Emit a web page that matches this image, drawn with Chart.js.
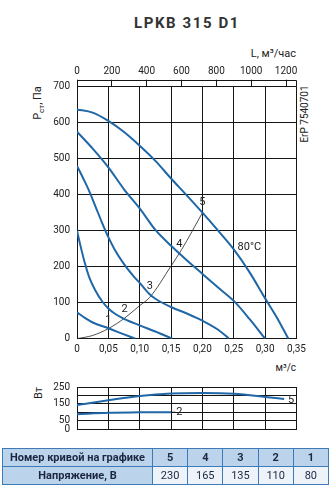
<!DOCTYPE html>
<html>
<head>
<meta charset="utf-8">
<script src="https://cdn.jsdelivr.net/npm/chart.js@4"></script>
<style>
  body { margin: 0; width: 333px; height: 488px; position: relative; background: #fff; font-family: Roboto, sans-serif; color: #222; overflow: hidden; }
  canvas { position: absolute; left: 0; }
  .t { position: absolute; white-space: nowrap; line-height: 1; }
  .rot { transform: translate(-50%, -50%) rotate(-90deg); }
  table { position: absolute; left: 2px; top: 448px; width: 327px; border-collapse: collapse; font-size: 11px; table-layout: fixed; }
  td { border: 1px solid #3d7ab8; height: 17px; padding: 0; text-align: center; color: #1b2640; }
  tr.head td { background: #bcd3ec; font-weight: bold; }
  tr.val td { background: #eef3fa; }
  tr.val td.first { background: #bcd3ec; font-weight: bold; }
</style>
</head>
<body>
<div class="t" style="left:100px;width:174px;top:16px;text-align:center;font-weight:bold;font-size:15px;letter-spacing:1.6px;color:#333">LPKB 315 D1</div>
<div class="t" style="right:37px;top:48px;font-size:11px">L, м³/час</div>
<div class="t rot" style="left:39px;top:103px;font-size:11px">P<sub style="font-size:8px">ст</sub>, Па</div>
<div class="t rot" style="left:305px;top:114px;font-size:10px">ErP 7540701</div>
<div class="t" style="right:37px;top:363px;font-size:10px">м³/с</div>
<div class="t rot" style="left:38px;top:393px;font-size:11px">Вт</div>

<canvas id="main" width="333" height="372" style="top:0"></canvas>
<canvas id="power" width="333" height="72" style="top:370px"></canvas>

<table>
  <colgroup><col style="width:150px"><col><col><col><col><col></colgroup>
  <tr class="head"><td>Номер кривой на графике</td><td>5</td><td>4</td><td>3</td><td>2</td><td>1</td></tr>
  <tr class="val"><td class="first">Напряжение, В</td><td>230</td><td>165</td><td>135</td><td>110</td><td>80</td></tr>
</table>

<script>
// расход, м3/с ; давление, Па
const curve5 = [[0,637],[0.025,628],[0.05,605],[0.075,574],[0.10,536],[0.125,494],[0.15,445],[0.175,398],[0.20,350],[0.225,300],[0.25,248],[0.275,185],[0.30,112],[0.32,55],[0.337,0]];
const curve4 = [[0,575],[0.025,528],[0.05,476],[0.075,415],[0.10,362],[0.125,302],[0.15,258],[0.175,218],[0.20,180],[0.225,142],[0.25,105],[0.275,55],[0.30,0]];
const curve3 = [[0,480],[0.01,445],[0.02,408],[0.03,365],[0.04,322],[0.05,282],[0.06,248],[0.075,207],[0.09,174],[0.10,155],[0.115,125],[0.125,111],[0.15,88],[0.175,70],[0.20,50],[0.225,25],[0.2425,0]];
const curve2 = [[0,300],[0.005,262],[0.0125,210],[0.02,168],[0.03,132],[0.04,104],[0.05,84],[0.06,70],[0.075,55],[0.10,37],[0.125,20],[0.152,0]];
const curve1 = [[0,73],[0.0125,58],[0.025,45],[0.05,29],[0.075,12],[0.093,0]];
const system = [[0,0],[0.025,9],[0.05,28],[0.075,56],[0.10,92],[0.116,115],[0.15,202],[0.167,248],[0.20,350]];

// мощность, Вт
const power5 = [[0,143],[0.05,171],[0.10,197],[0.15,212],[0.20,215],[0.25,210],[0.30,191],[0.33,178]];
const power2 = [[0,88],[0.05,97],[0.10,99],[0.15,100]];

const mainLabels = [["1",0.05,50,"center"],["2",0.076,82,"center"],["3",0.116,147,"center"],["4",0.163,263,"center"],["5",0.20,378,"center"],["80°C",0.256,255,"left"]];
const powerLabels = [["5",0.336,171,"left"],["2",0.158,100,"left"]];

const blue = "#1f67a6";
const gridCol = "#151515";

function pts(a) { return a.map(p => ({ x: p[0], y: p[1] })); }
function curve(a) {
  return { data: pts(a), borderColor: blue, borderWidth: 2, pointRadius: 0, tension: 0.4, cubicInterpolationMode: "monotone", fill: false };
}

const labelPlugin = {
  id: "curveLabels",
  afterDatasetsDraw(chart, args, opts) {
    const ctx = chart.ctx, x = chart.scales.x, y = chart.scales.y;
    ctx.save();
    ctx.font = "11px Roboto";
    ctx.fillStyle = "#222";
    ctx.textBaseline = "middle";
    opts.items.forEach(l => {
      ctx.textAlign = l[3];
      ctx.fillText(l[0], x.getPixelForValue(l[1]), y.getPixelForValue(l[2]));
    });
    if (opts.dash) {
      ctx.strokeStyle = "#222";
      ctx.lineWidth = 1;
      ctx.beginPath();
      ctx.moveTo(x.getPixelForValue(0.15), y.getPixelForValue(100));
      ctx.lineTo(x.getPixelForValue(0.157), y.getPixelForValue(100));
      ctx.stroke();
    }
    ctx.restore();
  }
};

// линия верхней оси (м3/час) с засечкой на конце
const topLine = {
  id: "topLine",
  afterDraw(chart) {
    const s = chart.scales.xTop;
    if (!s) return;
    const ctx = chart.ctx;
    const yy = Math.round(s.bottom - 7) + 0.5;
    const xr = Math.round(s.right) - 0.5;
    ctx.save();
    ctx.strokeStyle = gridCol;
    ctx.lineWidth = 1;
    ctx.beginPath();
    ctx.moveTo(s.left, yy);
    ctx.lineTo(s.right, yy);
    ctx.moveTo(xr, yy);
    ctx.lineTo(xr, s.bottom);
    ctx.stroke();
    ctx.restore();
  }
};

const tickFont = { family: "Roboto", size: 10 };

const sysSet = { data: pts(system), borderColor: "#222", borderWidth: 0.8, pointRadius: 0, tension: 0.4, cubicInterpolationMode: "monotone", fill: false };

new Chart(document.getElementById("main"), {
  type: "line",
  data: { datasets: [curve(curve5), curve(curve4), curve(curve3), curve(curve2), curve(curve1), sysSet] },
  options: {
    responsive: false,
    animation: false,
    devicePixelRatio: 1,
    layout: { padding: { left: 37, right: 36.5, top: 56.7, bottom: 8.3 } },
    plugins: {
      legend: { display: false },
      tooltip: { enabled: false },
      curveLabels: { items: mainLabels }
    },
    scales: {
      x: {
        type: "linear", position: "bottom", min: 0, max: 0.35,
        ticks: { stepSize: 0.05, autoSkip: false, maxRotation: 0, padding: 5, color: "#222", font: tickFont,
          callback: v => v === 0 ? "0" : v.toFixed(2).replace(".", ",") },
        grid: { color: gridCol, drawTicks: false },
        border: { color: gridCol },
        afterFit: s => { s.height = 25; }
      },
      xTop: {
        type: "linear", position: "top", min: 0, max: 1260,
        ticks: { stepSize: 200, includeBounds: false, autoSkip: false, maxRotation: 0, padding: 2, color: "#222", font: tickFont,
          callback: v => String(v) },
        grid: { color: gridCol, drawOnChartArea: false, tickLength: 7 },
        border: { display: false },
        afterFit: s => { s.height = 30; }
      },
      y: {
        min: 0, max: 700,
        ticks: { stepSize: 100, autoSkip: false, padding: 7, color: "#222", font: tickFont },
        grid: { color: gridCol, drawTicks: false },
        border: { color: gridCol },
        afterFit: s => { s.width = 40; }
      }
    }
  },
  plugins: [labelPlugin, topLine]
});

new Chart(document.getElementById("power"), {
  type: "line",
  data: { datasets: [curve(power5), curve(power2)] },
  options: {
    responsive: false,
    animation: false,
    devicePixelRatio: 1,
    layout: { padding: { left: 37, right: 36.3, top: 17, bottom: 6.7 } },
    plugins: {
      legend: { display: false },
      tooltip: { enabled: false },
      curveLabels: { items: powerLabels, dash: true }
    },
    scales: {
      x: {
        type: "linear", min: 0, max: 0.35,
        ticks: { stepSize: 0.05, display: false },
        grid: { color: gridCol, drawTicks: false },
        border: { color: gridCol },
        afterFit: s => { s.height = 0; }
      },
      y: {
        min: 0, max: 250,
        ticks: { stepSize: 50, autoSkip: false, padding: 7, color: "#222", font: tickFont,
          callback: v => [250, 150, 50, 0].includes(v) ? String(v) : "" },
        grid: { color: gridCol, drawTicks: false },
        border: { color: gridCol },
        afterFit: s => { s.width = 40; }
      }
    }
  },
  plugins: [labelPlugin]
});
</script>
</body>
</html>
